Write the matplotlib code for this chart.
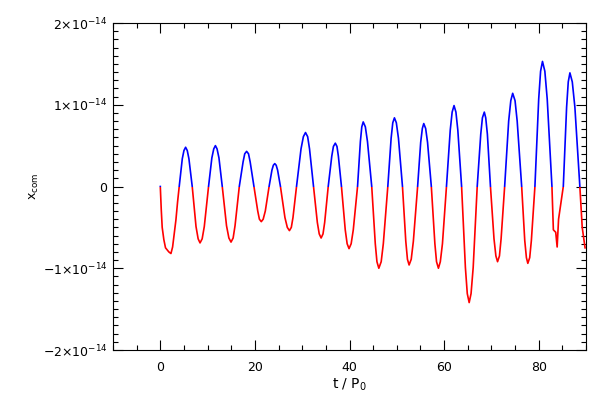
import numpy as np
import matplotlib
matplotlib.use("Agg")
import matplotlib.pyplot as plt
from matplotlib.patches import Rectangle
from matplotlib.ticker import MultipleLocator, FixedLocator

### Data (values in units of 1e-14) ###
t_vals = [
    0.0, 0.2, 0.4, 0.75, 1.1, 1.8, 2.25, 2.6, 2.95, 3.3, 3.65,
    4.0, 4.65, 5.0, 5.35, 5.7, 6.05, 6.75, 7.55, 8.0, 8.4, 8.85, 9.3,
    10.2, 10.9, 11.3, 11.65, 12.0, 12.4, 13.1, 14.0, 14.5, 14.95, 15.4, 15.8,
    16.7, 17.5, 17.85, 18.25, 18.65, 19.0, 19.8, 20.6, 20.95, 21.35, 21.75, 22.2,
    23.0, 23.6, 23.9, 24.2, 24.5, 24.8, 25.4, 26.35, 26.85, 27.3, 27.7, 28.05,
    28.8, 29.75, 30.25, 30.7, 31.15, 31.55, 32.4, 33.2, 33.6, 34.0, 34.4, 34.75,
    35.5, 36.25, 36.6, 37.0, 37.35, 37.65, 38.3, 39.1, 39.5, 39.9, 40.35, 40.8,
    41.7, 42.3, 42.6, 42.9, 43.35, 43.8, 44.7, 45.45, 45.8, 46.2, 46.7, 47.15,
    48.1, 48.8, 49.15, 49.5, 49.9, 50.35, 51.2, 51.9, 52.25, 52.6, 53.05, 53.5,
    54.4, 55.05, 55.4, 55.7, 56.1, 56.5, 57.3, 58.05, 58.4, 58.8, 59.2, 59.65,
    60.5, 61.3, 61.7, 62.1, 62.5, 62.9, 63.7, 64.5, 64.9, 65.3, 65.7, 66.15,
    67.0, 67.75, 68.1, 68.5, 68.8, 69.15, 69.8, 70.55, 70.95, 71.3, 71.7, 72.05,
    72.8, 73.65, 74.1, 74.5, 75.0, 75.45, 76.4, 77.05, 77.4, 77.7, 78.1, 78.45,
    79.2, 80.0, 80.4, 80.8, 81.3, 81.8, 82.8, 83.1, 83.6, 83.9, 84.2,
    85.2, 85.9, 86.25, 86.6, 87.1, 87.65, 88.7, 89.2, 89.8,
]
xcom_vals = [
    0.0, -0.28, -0.50, -0.65, -0.75, -0.80, -0.82, -0.74, -0.57, -0.41, -0.19,
    0.0, 0.34, 0.44, 0.48, 0.44, 0.34, 0.0, -0.49, -0.64, -0.69, -0.64, -0.49,
    0.0, 0.35, 0.46, 0.50, 0.46, 0.35, 0.0, -0.48, -0.63, -0.68, -0.63, -0.48,
    0.0, 0.30, 0.40, 0.43, 0.40, 0.30, 0.0, -0.30, -0.40, -0.43, -0.40, -0.30,
    0.0, 0.20, 0.26, 0.28, 0.26, 0.20, 0.0, -0.38, -0.50, -0.54, -0.50, -0.38,
    0.0, 0.46, 0.61, 0.66, 0.61, 0.46, 0.0, -0.44, -0.58, -0.63, -0.58, -0.44,
    0.0, 0.37, 0.49, 0.53, 0.49, 0.37, 0.0, -0.53, -0.70, -0.76, -0.70, -0.53,
    0.0, 0.55, 0.73, 0.79, 0.73, 0.55, 0.0, -0.70, -0.92, -1.00, -0.92, -0.70,
    0.0, 0.59, 0.78, 0.84, 0.78, 0.59, 0.0, -0.67, -0.89, -0.96, -0.89, -0.67,
    0.0, 0.54, 0.71, 0.77, 0.71, 0.54, 0.0, -0.70, -0.92, -1.00, -0.92, -0.70,
    0.0, 0.69, 0.91, 0.99, 0.91, 0.69, 0.0, -0.99, -1.31, -1.42, -1.31, -0.99,
    0.0, 0.64, 0.84, 0.91, 0.84, 0.64, 0.0, -0.64, -0.85, -0.92, -0.85, -0.64,
    0.0, 0.80, 1.05, 1.14, 1.05, 0.80, 0.0, -0.66, -0.87, -0.94, -0.87, -0.66,
    0.0, 1.07, 1.41, 1.53, 1.41, 1.07, 0.0, -0.53, -0.56, -0.74, -0.40,
    0.0, 0.97, 1.28, 1.39, 1.28, 0.97, 0.0, -0.50, -0.75,
]
scale = 1e-14

y_ticks = [-2e-14, -1e-14, 0, 1e-14, 2e-14]
y_ticklabels = [r"$-2{\times}10^{-14}$", r"$-1{\times}10^{-14}$", "0",
                r"$1{\times}10^{-14}$", r"$2{\times}10^{-14}$"]

t = np.array(t_vals)
xcom = np.array(xcom_vals) * scale

plt.rcParams["font.family"] = "DejaVu Sans"
plt.rcParams["mathtext.fontset"] = "dejavusans"

fig = plt.figure(figsize=(6, 4), dpi=100)
ax = fig.add_axes([113 / 600, 50 / 400, 473 / 600, 327 / 400])

# red below zero, blue above zero
red_line, = ax.plot(t, xcom, color="#ff0000", lw=1.2)
red_line.set_clip_path(Rectangle((-50, -1e-12), 300, 1e-12, transform=ax.transData))
blue_line, = ax.plot(t, xcom, color="#0000ff", lw=1.2)
blue_line.set_clip_path(Rectangle((-50, 0), 300, 1e-12, transform=ax.transData))

ax.set_xlim(-10, 90)
ax.set_ylim(-2e-14, 2e-14)

ax.xaxis.set_major_locator(MultipleLocator(20))
ax.xaxis.set_minor_locator(MultipleLocator(5))
ax.yaxis.set_major_locator(FixedLocator(y_ticks))
ax.yaxis.set_minor_locator(MultipleLocator(1e-15))
ax.set_yticklabels(y_ticklabels)

ax.tick_params(which="both", direction="in", top=True, right=True,
               labelsize=9, width=0.8, colors="black")
ax.tick_params(which="major", length=7)
ax.tick_params(which="minor", length=3.5)
ax.tick_params(axis="x", pad=8)
ax.tick_params(axis="y", pad=4)

for sp in ax.spines.values():
    sp.set_linewidth(0.8)

ax.set_xlabel(r"t / P$_0$", fontsize=10, labelpad=2)
ax.set_ylabel(r"x$_{\mathrm{com}}$", fontsize=9)
ax.yaxis.set_label_coords(-0.153, 0.5)

fig.savefig("out.png", dpi=100)
